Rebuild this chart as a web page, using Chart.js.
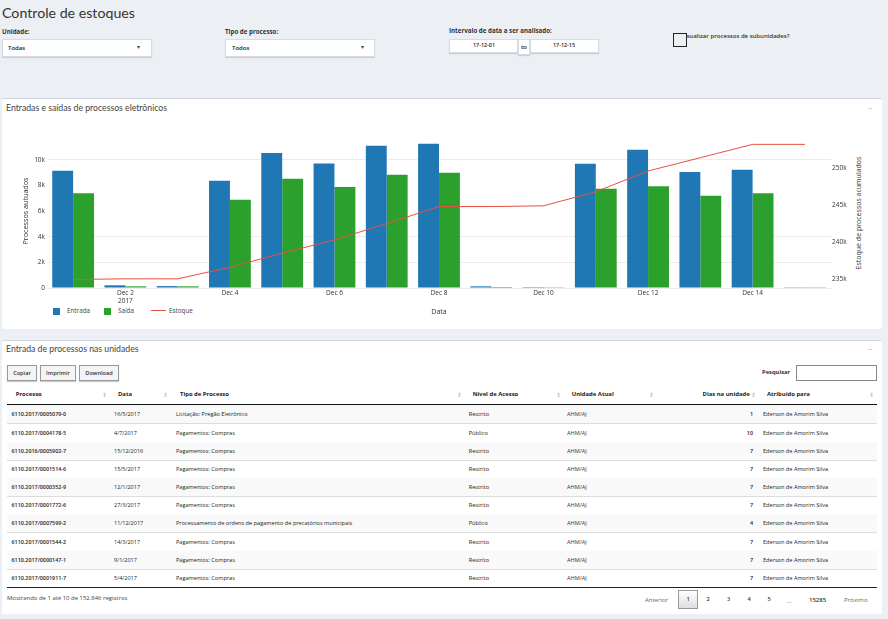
<!DOCTYPE html>
<html lang="pt-BR"><head><meta charset="utf-8">
<script src="https://cdn.jsdelivr.net/npm/chart.js@4/dist/chart.umd.min.js"></script>
<style>
html,body{margin:0;padding:0;width:888px;height:619px;overflow:hidden;background:#ecf0f5;font-family:"Open Sans",sans-serif;color:#222}
.a{position:absolute;white-space:nowrap;line-height:1;transform:translateY(-50%)}
.b{position:absolute;box-sizing:border-box}
.panel{position:absolute;left:2px;width:880px;background:#fff;border-top:1.5px solid #d2d6de;border-radius:2px;box-sizing:border-box}
.input{background:#fff;border:1px solid #d8dce2;box-shadow:0 1px 1px #ccd}
.btn{border:1px solid #999;background:#f4f4f4;box-shadow:0 1px 1px #ccc;font-size:5.6px;font-weight:600;text-align:center;line-height:14px;color:#333}
canvas{position:absolute;left:0;top:120px}
</style></head><body>
<div id="page"></div>
<canvas id="chart" width="888" height="200" style="width:888px;height:200px"></canvas>
<script>
const categories=["Dec 1","Dec 2","Dec 3","Dec 4","Dec 5","Dec 6","Dec 7","Dec 8","Dec 9","Dec 10","Dec 11","Dec 12","Dec 13","Dec 14","Dec 15"];
const entrada=[9140,210,150,8360,10520,9710,11090,11250,130,70,9690,10780,9040,9220,60];
const saida=[7380,130,130,6880,8520,7870,8830,8990,80,60,7740,7920,7190,7380,60];
const estoque=[234950,235040,235040,236600,238500,240300,242500,244800,244800,244900,246800,249600,251400,253200,253200];
const leftTicks=[0,2000,4000,6000,8000,10000];
const rightTicks=[235000,240000,245000,250000];
const hiddenGrid=[6000,8000];
const colProcesso=["6110.2017/0005079-0","6110.2017/0004178-5","6110.2016/0005902-7","6110.2017/0001514-6","6110.2017/0000352-9","6110.2017/0001772-6","6110.2017/0007599-2","6110.2017/0001544-2","6110.2017/0000147-1","6110.2017/0001911-7"];
const colData=["16/5/2017","4/7/2017","15/12/2016","15/5/2017","12/1/2017","27/3/2017","11/12/2017","14/3/2017","9/1/2017","5/4/2017"];
const colTipo=["Licitação: Pregão Eletrônico","Pagamentos: Compras","Pagamentos: Compras","Pagamentos: Compras","Pagamentos: Compras","Pagamentos: Compras","Processamento de ordens de pagamento de precatórios municipais","Pagamentos: Compras","Pagamentos: Compras","Pagamentos: Compras"];
const colNivel=["Restrito","Público","Restrito","Restrito","Restrito","Restrito","Público","Restrito","Restrito","Restrito"];
const colDias=[1,10,7,7,7,7,4,7,7,7];
const rowEdges=[405,423,442,460,478,496,514,532,551,569,587];
const page=document.getElementById('page');
function box(cls,l,t,w,h,css){const d=document.createElement('div');d.className='b '+cls;d.style.cssText+=`left:${l}px;top:${t}px;width:${w}px;height:${h}px;${css||''}`;page.appendChild(d);return d}
function txt(s,x,y,size,weight,color,right,fam){const d=document.createElement('div');d.className='a';d.textContent=s;d.style.cssText=`${right?'right:'+(888-x)+'px':'left:'+x+'px'};top:${y}px;font-size:${size}px;font-weight:${weight||400};color:${color||'#222'};${fam?'font-family:'+fam:''}`;page.appendChild(d);return d}
txt('Controle de estoques',2,12.5,14.2,400,'#333',false,'Lato');
txt('Unidade:',2,32,6.2,700,'#333');txt('Tipo de processo:',225,32,6.2,700,'#333');txt('Intervalo de data a ser analisado:',449,31,6.2,700,'#333');
box('input',2,39,150,18);box('input',225,39,150,18);
txt('Todas',8,47.5,6,600);txt('Todos',232,47.5,6,600);txt('▾',137,47,6,400,'#444');txt('▾',361,47,6,400,'#444');
box('input',449,39,69,14);box('input',530,39,69,14);box('input',518,39,12,16);
txt('17-12-01',473,46,5.4,600);txt('to',521,47,6,600);txt('17-12-15',553,46,5.4,600);
txt('Visualizar processos de subunidades?',681,35.5,6,600,'#333');
box('',673,33,14,14,'border:1.3px solid #222;background:#ecf0f5');
const p1=document.createElement('div');p1.className='panel';p1.style.cssText='top:98px;height:231px';page.appendChild(p1);
const p2=document.createElement('div');p2.className='panel';p2.style.cssText='top:340px;height:274px';page.appendChild(p2);
txt('Entradas e saídas de processos eletrônicos',6,108,8.7,400,'#444',false,'Lato');txt('−',868,107.5,8,400,'#aab');
txt('Entrada de processos nas unidades',6,349,8.7,400,'#444',false,'Lato');txt('−',868,349,8,400,'#aab');
[['Copiar',7,30],['Imprimir',40,36],['Download',79,40]].forEach(([s,x,w])=>{const d=box('btn',x,365,w,16);d.textContent=s});
txt('Pesquisar',762,373,5.8,700,'#333');box('',796,365,81,16,'border:1px solid #888;background:#fff');
for(let i=0;i<10;i++){if(i%2==0)box('',7,rowEdges[i],870,rowEdges[i+1]-rowEdges[i],'background:#f9f9f9');box('',7,rowEdges[i+1]-0.5,870,1,'background:'+(i==9?'#222':'#ddd'))}
box('',7,404,870,1.3,'background:#111');
[['Processo',15.7],['Data',118],['Tipo de Processo',180],['Nível de Acesso',472.7],['Unidade Atual',571.7],['Atribuído para',767]].forEach(([s,x])=>txt(s,x,394.5,5.9,700,'#222'));
txt('Dias na unidade',749.7,394.5,5.9,700,'#222',true);
[104,165,459,558,651,753,871].forEach(x=>txt('⬍',x-2,394.5,6,400,'#ccc'));
for(let i=0;i<10;i++){const y=(rowEdges[i]+rowEdges[i+1])/2+1;
txt(colProcesso[i],11.5,y,5.4,600,'#222');txt(colData[i],114,y,5.5,500,'#222');txt(colTipo[i],176,y,5.6,500,'#222');txt(colNivel[i],468.7,y,5.6,500,'#222');txt('AHM/AJ',567,y,5.6,500,'#333');txt(String(colDias[i]),753,y,5.4,600,'#222',true);txt('Ederson de Amorim Silva',763,y,5.6,500,'#222')}
txt('Mostrando de 1 até 10 de 152.846 registros',7,599,5.95,500,'#444');
txt('Anterior',645,600,6,400,'#666');box('',678,590,20,19,'border:1px solid #999;background:linear-gradient(#fff,#ddd)');
[['1',686.5],['2',706.5],['3',727],['4',747.5],['5',767.5]].forEach(([s,x])=>txt(s,x,600,5.6,600,'#333'));
txt('…',787,600.5,6,400,'#555');txt('15285',809,600,6,600,'#333');txt('Próximo',844,600,6,400,'#666');
[['Entrada','#1f77b4',53,7,67],['Saída','#2ca02c',104,7,118]].forEach(([s,c,x,w,tx])=>{box('',x,308,w,7,'background:'+c);txt(s,tx,311,6.3,500,'#444')});
box('',151,310,15,1.3,'background:#e8503f');txt('Estoque',169,311,6.3,500,'#444');
const yt=txt('Estoque de processos acumulados',858,212.5,7,400,'#333');
yt.style.transform='translate(-50%,-50%) rotate(-90deg)';
const fontTick={family:'"Open Sans",sans-serif',size:6.5,weight:500};
new Chart(document.getElementById('chart'),{
data:{labels:categories,datasets:[
{type:'line',label:'Estoque',data:estoque,yAxisID:'y1',borderColor:'#e8503f',borderWidth:1,pointRadius:0,tension:0,order:0},
{type:'bar',label:'Entrada',data:entrada,yAxisID:'y',backgroundColor:'#1f77b4',order:1},
{type:'bar',label:'Saída',data:saida,yAxisID:'y',backgroundColor:'#2ca02c',order:1}]},
options:{responsive:false,animation:false,devicePixelRatio:1,
layout:{padding:{top:14,left:0,right:0,bottom:0}},
plugins:{legend:{display:false},tooltip:{enabled:false}},
datasets:{bar:{barPercentage:1,categoryPercentage:0.8}},
scales:{
x:{offset:true,grid:{display:false,drawTicks:false},border:{display:false},afterFit(s){s.height=32},
title:{display:true,text:'Data',font:{family:'"Open Sans",sans-serif',size:7},color:'#333',padding:{top:0,bottom:4}},
ticks:{autoSkip:false,maxRotation:0,minRotation:0,padding:1,color:'#333',font:fontTick,
callback(v,i){const l=categories[i];if(i%2==0)return '';return i==1?[l,'2017']:l}}},
y:{position:'left',min:0,max:12000,afterFit(s){s.width=47},afterBuildTicks(s){s.ticks=leftTicks.map(value=>({value}))},
border:{display:false},grid:{drawTicks:false,color:c=>hiddenGrid.includes(c.tick&&c.tick.value)?'rgba(0,0,0,0)':'#ececec'},
title:{display:true,text:'Processos autuados',font:{family:'"Open Sans",sans-serif',size:7.2},color:'#333',padding:{top:22,bottom:0}},
ticks:{padding:2,color:'#333',font:fontTick,callback:v=>v==0?'0':(v/1000)+'k'}},
y1:{position:'right',min:233800,max:254600,afterFit(s){s.width=57},afterBuildTicks(s){s.ticks=rightTicks.map(value=>({value}))},
border:{display:false},grid:{display:false,drawTicks:false},
ticks:{padding:1,color:'#333',font:fontTick,callback:v=>(v/1000)+'k'}}
}}});
</script></body></html>
